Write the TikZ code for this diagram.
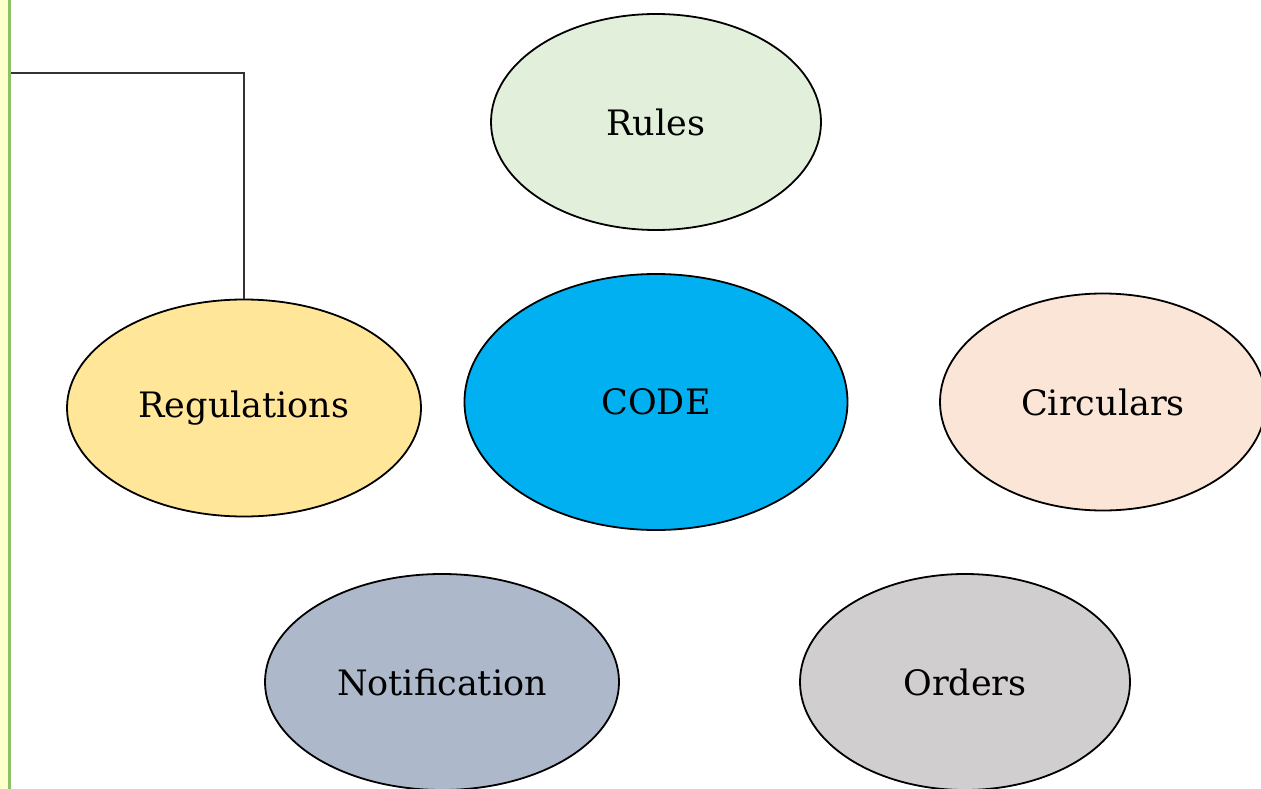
\documentclass[tikz,border=0pt]{standalone}
\usepackage{fontspec}
\setmainfont{DejaVu Serif}
\usetikzlibrary{shapes.geometric}
\definecolor{rulesfill}{HTML}{E2EFDA}
\definecolor{regfill}{HTML}{FFE699}
\definecolor{codefill}{HTML}{00B0F0}
\definecolor{circfill}{HTML}{FBE5D6}
\definecolor{notiffill}{HTML}{ADB9CA}
\definecolor{ordfill}{HTML}{D0CECE}
\definecolor{stripfill}{HTML}{FFFFCC}
\definecolor{stripline}{HTML}{8CC06A}
\tikzset{
  blob/.style={ellipse, draw=black, line width=1.8pt, inner sep=0pt,
    font=\fontsize{35}{40}\selectfont, text=black},
}
\begin{document}
\begin{tikzpicture}[x=1pt,y=-1pt]
  \useasboundingbox (0,0) rectangle (1261,789);
  \clip (0,0) rectangle (1261,789);
  % left margin strip
  \fill[stripfill] (0,0) rectangle (8.5,789);
  \draw[stripline, line width=2.5pt] (9.5,0) -- (9.5,789);

  \node[blob, fill=rulesfill, minimum width=330pt, minimum height=216pt] (rules) at (656,122) {Rules};
  \node[blob, fill=regfill, minimum width=354pt, minimum height=217pt] (reg) at (244,408) {Regulations};
  \node[blob, fill=codefill, minimum width=383pt, minimum height=256pt] (code) at (656,402) {CODE};
  \node[blob, fill=circfill, minimum width=326pt, minimum height=217pt] (circ) at (1103,402) {Circulars};
  \node[blob, fill=notiffill, minimum width=354pt, minimum height=216pt] (notif) at (442,682) {Notification};
  \node[blob, fill=ordfill, minimum width=330pt, minimum height=216pt] (ord) at (965,682) {Orders};

  % elbow connector from the margin to Regulations
  \coordinate (lead) at (11,73);
  \draw[black!80, line width=1.3pt] (lead) -| (reg.north);
\end{tikzpicture}
\end{document}
